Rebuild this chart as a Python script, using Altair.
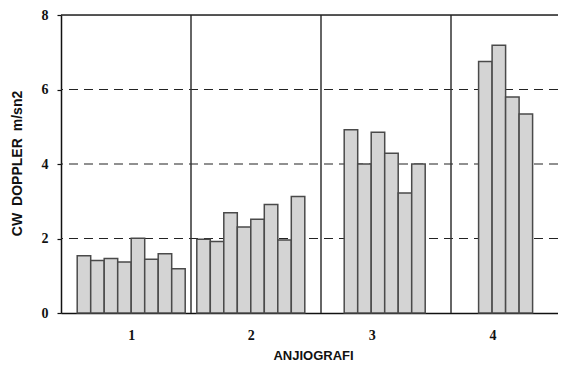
import altair as alt
import pandas as pd

# ---- data ----
groups = ["1", "2", "3", "4"]
g1_values = [1.54, 1.41, 1.46, 1.37, 2.01, 1.44, 1.59, 1.19]
g2_values = [1.98, 1.92, 2.69, 2.31, 2.52, 2.91, 1.96, 3.13]
g3_values = [4.92, 4.00, 4.85, 4.29, 3.22, 4.00]
g4_values = [6.75, 7.19, 5.80, 5.34]
y_ticks = [0, 2, 4, 6, 8]
grid_levels = [2, 4, 6]

# ---- layout (group units: one group = 1.0 on the x scale) ----
GROUP_PX = 130.0
PLOT_W = 497
PLOT_H = 298
bar_w = 13.5 / GROUP_PX
group_centers = [0.54, 1.46, 2.49, 3.42]
label_positions = [0.54, 1.46, 2.39, 3.32]
x_max = PLOT_W / GROUP_PX

rows = []
for gi, vals in enumerate([g1_values, g2_values, g3_values, g4_values]):
    n = len(vals)
    for i, v in enumerate(vals):
        x0 = group_centers[gi] + (i - n / 2) * bar_w
        rows.append({"group": groups[gi], "x0": x0, "x1": x0 + bar_w, "value": v})
bars_df = pd.DataFrame(rows)

xscale = alt.Scale(domain=[0, x_max], nice=False, zero=False)
yscale = alt.Scale(domain=[0, 8], nice=False)

label_expr = "datum.value < 1 ? '1' : datum.value < 2 ? '2' : datum.value < 3 ? '3' : '4'"

bars = alt.Chart(bars_df).mark_rect(
    fill="#d4d4d4", stroke="#4a4a4a", strokeWidth=1.5
).encode(
    x=alt.X("x0:Q", scale=xscale,
            axis=alt.Axis(values=label_positions, labelExpr=label_expr,
                          title="ANJIOGRAFI", ticks=False, grid=False,
                          domain=True, domainColor="#111", domainWidth=1.5,
                          labelFont="Liberation Serif", labelFontWeight="bold",
                          labelFontSize=14, labelColor="#111", labelPadding=15,
                          titleFont="Liberation Sans", titleFontWeight="bold",
                          titleFontSize=13, titleColor="#111",
                          titleX=252, titleY=42, titleBaseline="middle")),
    x2="x1:Q",
    y=alt.Y("value:Q", scale=yscale,
            axis=alt.Axis(values=y_ticks, title="CW\u2002DOPPLER\u2002m/sn2",
                          grid=False, domain=True, domainColor="#111", domainWidth=1.5,
                          tickColor="#111", tickSize=4, tickWidth=1.2,
                          labelFont="Liberation Serif", labelFontWeight="bold",
                          labelFontSize=14, labelColor="#111", labelPadding=9,
                          titleFont="Liberation Sans", titleFontWeight="bold",
                          titleFontSize=14, titleColor="#111",
                          titleX=-44, titleY=148, titleBaseline="middle",
                          titleAlign="center")),
    y2=alt.datum(0),
)

grid_df = pd.DataFrame({"level": grid_levels})
grid = alt.Chart(grid_df).mark_rule(
    color="#222", strokeWidth=1.2, strokeDash=[9, 6]
).encode(y=alt.Y("level:Q", scale=yscale))

sep_df = pd.DataFrame({"boundary": [1, 2, 3]})
seps = alt.Chart(sep_df).mark_rule(color="#333", strokeWidth=1.5).encode(
    x=alt.X("boundary:Q", scale=xscale)
)

top_df = pd.DataFrame({"level": [8]})
top = alt.Chart(top_df).mark_rule(color="#222", strokeWidth=1.5).encode(
    y=alt.Y("level:Q", scale=yscale)
)

chart = alt.layer(grid, seps, top, bars).properties(
    width=PLOT_W,
    height=PLOT_H,
    autosize=alt.AutoSizeParams(type="none"),
    padding={"left": 53, "top": 7, "right": 0, "bottom": 48},
).configure_view(stroke=None).configure(background="white")

chart.save("out.html", embed_options={"renderer": "svg", "actions": False})
